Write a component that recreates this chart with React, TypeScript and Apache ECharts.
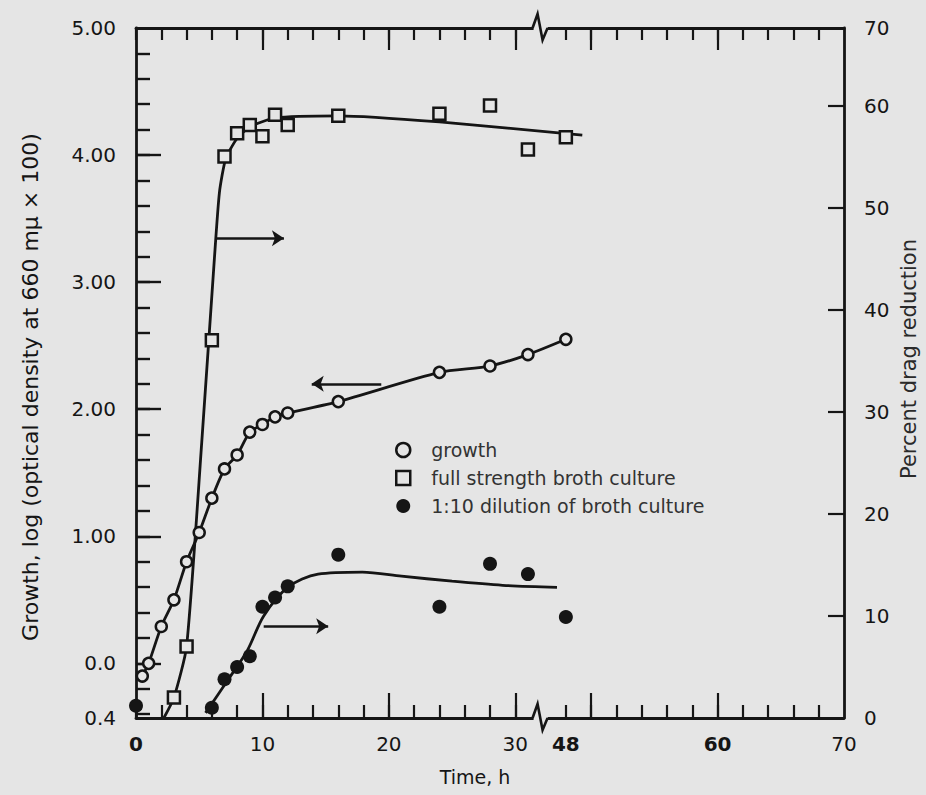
import React, { useEffect, useRef } from "react";
import * as echarts from "echarts";

const BG = "#e5e5e5";
const INK = "#151515";
const FONT = '"DejaVu Sans", "Liberation Sans", sans-serif';

// ---- broken time axis: 0..32 h, then 48..70 h ----
const BREAK_AFTER_H = 32;
const BREAK_SKIP_H = 14;
const toDisplay = (t: number) => (t <= BREAK_AFTER_H ? t : t - BREAK_SKIP_H);

const X_MIN_H = 0;
const X_MAX_H = 70;
const xLabelHours = [0, 10, 20, 30, 48, 60, 70];
const xLabelTexts = ["0", "10", "20", "30", "48", "60", "70"];
const xBoldLabels = ["0", "48", "60"];
const xMinorTickHours = [0, 2, 4, 6, 8, 10, 12, 14, 16, 18, 20, 22, 24, 26, 28, 30, 48, 50, 52, 54, 56, 58, 60, 62, 64, 66, 68];
const xMajorTickHours = [10, 20, 30, 50, 60];

// ---- left axis: growth ----
const LEFT_MIN = -0.43;
const LEFT_MAX = 5.0;
const leftLabelValues = [-0.43, 0, 1, 2, 3, 4, 5];
const leftLabelTexts = ["0.4", "0.0", "1.00", "2.00", "3.00", "4.00", "5.00"];
const leftMinorTicks = [-0.4, -0.2, 0, 0.2, 0.4, 0.6, 0.8, 1, 1.2, 1.4, 1.6, 1.8, 2, 2.2, 2.4, 2.6, 2.8, 3, 3.2, 3.4, 3.6, 3.8, 4, 4.2, 4.4, 4.6, 4.8];
const leftMajorTicks = [0, 1, 2, 3, 4];

// ---- right axis: percent drag reduction ----
const RIGHT_MIN = 0;
const RIGHT_MAX = 67.6;
const rightLabelValues = [0, 10, 20, 30, 40, 50, 60, 67.6];
const rightLabelTexts = ["0", "10", "20", "30", "40", "50", "60", "70"];
const rightTicks = [10, 20, 30, 40, 50, 60];

// ---- data ----
const growthHours = [0.5, 1, 2, 3, 4, 5, 6, 7, 8, 9, 10, 11, 12, 16, 24, 28, 31, 48];
const growthValues = [-0.1, 0.0, 0.29, 0.5, 0.8, 1.03, 1.3, 1.53, 1.64, 1.82, 1.88, 1.94, 1.97, 2.06, 2.29, 2.34, 2.43, 2.55];

const fullHours = [3, 4, 6, 7, 8, 9, 10, 11, 12, 16, 24, 28, 31, 48];
const fullValues = [2.0, 7.0, 37.0, 55.0, 57.3, 58.1, 57.0, 59.1, 58.1, 59.0, 59.2, 60.0, 55.7, 56.9];

const dilutionHours = [0, 6, 7, 8, 9, 10, 11, 12, 16, 24, 28, 31, 48];
const dilutionValues = [1.2, 1.0, 3.8, 5.0, 6.05, 10.9, 11.8, 12.9, 16.0, 10.9, 15.1, 14.1, 9.9];

// fitted curves drawn in the figure
const fullFitHours = [2.2, 3, 4, 5.2, 6.2, 6.6, 7.1, 8, 9, 11, 16, 24, 49.3];
const fullFitValues = [0, 2, 7, 27, 45, 51.5, 54.8, 56.8, 57.9, 58.8, 59.0, 58.4, 57.1];

const dilutionFitHours = [5.5, 7.2, 8.8, 10.1, 12, 14.4, 17.9, 21, 25, 29, 47.3];
const dilutionFitValues = [0.5, 3.6, 6.6, 10.0, 12.8, 14.1, 14.3, 13.9, 13.4, 13.0, 12.8];

// arrows pointing to the axis each curve belongs to
const growthArrow = { fromH: 19.4, toH: 13.9, level: 2.2 };
const fullArrow = { fromH: 6.3, toH: 11.7, level: 47 };
const dilutionArrow = { fromH: 10.1, toH: 15.2, level: 9.0 };

const pairs = (xs: number[], ys: number[]) => xs.map((x, i) => [toDisplay(x), ys[i]]);

const lookup = (vals: number[], texts: string[]) => (v: number) => {
  const i = vals.findIndex((x) => Math.abs(x - v) < 1e-6);
  return i >= 0 ? texts[i] : "";
};

const arrowMark = (a: { fromH: number; toH: number; level: number }) => ({
  silent: true,
  animation: false,
  symbol: ["none", "arrow"],
  symbolSize: 12,
  label: { show: false },
  emphasis: { disabled: true },
  lineStyle: { color: INK, width: 2.6, type: "solid" },
  data: [[{ coord: [toDisplay(a.fromH), a.level] }, { coord: [toDisplay(a.toH), a.level] }]],
});

const tickLabelStyle = { fontFamily: FONT, fontSize: 20, color: INK };

export default function App() {
  const ref = useRef<HTMLDivElement>(null);

  useEffect(() => {
    if (!ref.current) return;
    const chart = echarts.init(ref.current, undefined, { renderer: "svg" });
    const xMin = toDisplay(X_MIN_H);
    const xMax = toDisplay(X_MAX_H);
    const xLabelFmt = lookup(xLabelHours.map(toDisplay), xLabelTexts);
    const baseX = {
      type: "value",
      min: xMin,
      max: xMax,
      splitLine: { show: false },
    };
    const baseLeft = { type: "value", min: LEFT_MIN, max: LEFT_MAX, splitLine: { show: false } };

    const option: any = {
      animation: false,
      backgroundColor: BG,
      grid: { left: 136, right: 82, top: 28, bottom: 77, containLabel: false },
      legend: {
        orient: "vertical",
        left: 390,
        top: 435,
        itemWidth: 14,
        itemHeight: 14,
        itemGap: 8,
        selectedMode: false,
        textStyle: { fontFamily: FONT, fontSize: 19, color: "#333", lineHeight: 20, padding: [0, 0, 0, 16] },
        data: [
          { name: "growth", icon: "circle", itemStyle: { color: BG, borderColor: INK, borderWidth: 2.5, opacity: 1 } },
          { name: "full strength broth culture", icon: "rect", itemStyle: { color: BG, borderColor: INK, borderWidth: 2.5, opacity: 1 } },
          { name: "1:10 dilution of broth culture", icon: "circle", itemStyle: { color: INK, borderWidth: 0, opacity: 1 } },
        ],
      },
      xAxis: [
        {
          ...baseX,
          position: "bottom",
          axisLine: { show: true, onZero: false, lineStyle: { color: INK, width: 2.8 } },
          axisTick: { show: true, inside: true, length: 13, customValues: xMinorTickHours.map(toDisplay), lineStyle: { color: INK, width: 2.2 } },
          axisLabel: {
            show: true,
            margin: 16,
            customValues: xLabelHours.map(toDisplay),
            formatter: (v: number) => {
              const s = xLabelFmt(v);
              return xBoldLabels.includes(s) ? `{b|${s}}` : s;
            },
            ...tickLabelStyle,
            rich: { b: { ...tickLabelStyle, fontWeight: "bold" } },
          },
        },
        {
          ...baseX,
          position: "bottom",
          axisLine: { show: false, onZero: false },
          axisTick: { show: true, inside: true, length: 25, customValues: xMajorTickHours.map(toDisplay), lineStyle: { color: INK, width: 2.2 } },
          axisLabel: { show: false },
        },
        {
          ...baseX,
          position: "top",
          axisLine: { show: true, onZero: false, lineStyle: { color: INK, width: 2.8 } },
          axisTick: { show: true, inside: true, length: 12, customValues: xMinorTickHours.map(toDisplay), lineStyle: { color: INK, width: 2.2 } },
          axisLabel: { show: false },
        },
        {
          ...baseX,
          position: "top",
          axisLine: { show: false, onZero: false },
          axisTick: { show: true, inside: true, length: 22, customValues: xMajorTickHours.map(toDisplay), lineStyle: { color: INK, width: 2.2 } },
          axisLabel: { show: false },
        },
      ],
      yAxis: [
        {
          ...baseLeft,
          position: "left",
          axisLine: { show: true, onZero: false, lineStyle: { color: INK, width: 2.8 } },
          axisTick: { show: true, inside: true, length: 14, customValues: leftMinorTicks, lineStyle: { color: INK, width: 2.4 } },
          axisLabel: {
            show: true,
            margin: 20,
            customValues: leftLabelValues,
            formatter: lookup(leftLabelValues, leftLabelTexts),
            ...tickLabelStyle,
          },
        },
        {
          type: "value",
          min: RIGHT_MIN,
          max: RIGHT_MAX,
          position: "right",
          splitLine: { show: false },
          axisLine: { show: true, onZero: false, lineStyle: { color: INK, width: 2.8 } },
          axisTick: { show: true, inside: true, length: 16, customValues: rightTicks, lineStyle: { color: INK, width: 2.2 } },
          axisLabel: {
            show: true,
            margin: 20,
            customValues: rightLabelValues,
            formatter: lookup(rightLabelValues, rightLabelTexts),
            ...tickLabelStyle,
          },
        },
        {
          ...baseLeft,
          position: "left",
          axisLine: { show: false, onZero: false },
          axisTick: { show: true, inside: true, length: 25, customValues: leftMajorTicks, lineStyle: { color: INK, width: 2.4 } },
          axisLabel: { show: false },
        },
      ],
      graphic: [
        {
          type: "text",
          x: 30,
          y: 387,
          rotation: Math.PI / 2,
          style: {
            text: "Growth, log (optical density at 660 mμ × 100)",
            fill: INK,
            fontFamily: FONT,
            fontSize: 22,
            textAlign: "center",
            textVerticalAlign: "middle",
            align: "center",
            verticalAlign: "middle",
          },
        },
        {
          type: "text",
          x: 909,
          y: 359,
          rotation: Math.PI / 2,
          style: {
            text: "Percent drag reduction",
            fill: "#2a2a2a",
            fontFamily: FONT,
            fontSize: 21,
            textAlign: "center",
            textVerticalAlign: "middle",
            align: "center",
            verticalAlign: "middle",
          },
        },
        {
          type: "text",
          x: 475,
          y: 777,
          style: {
            text: "Time, h",
            fill: INK,
            fontFamily: FONT,
            fontSize: 19,
            textAlign: "center",
            textVerticalAlign: "middle",
            align: "center",
            verticalAlign: "middle",
          },
        },
      ],
      series: [
        {
          name: "full strength fit",
          type: "line",
          xAxisIndex: 0,
          yAxisIndex: 1,
          data: pairs(fullFitHours, fullFitValues),
          smooth: 0.2,
          showSymbol: false,
          symbol: "none",
          lineStyle: { color: INK, width: 2.8 },
          silent: true,
          z: 2,
          markLine: arrowMark(fullArrow),
        },
        {
          name: "dilution fit",
          type: "line",
          xAxisIndex: 0,
          yAxisIndex: 1,
          data: pairs(dilutionFitHours, dilutionFitValues),
          smooth: 0.3,
          showSymbol: false,
          symbol: "none",
          lineStyle: { color: INK, width: 2.8 },
          silent: true,
          z: 2,
          markLine: arrowMark(dilutionArrow),
        },
        {
          name: "growth",
          type: "line",
          xAxisIndex: 0,
          yAxisIndex: 0,
          data: pairs(growthHours, growthValues),
          smooth: 0.25,
          symbol: "circle",
          symbolSize: 11,
          showSymbol: true,
          lineStyle: { color: INK, width: 2.8 },
          itemStyle: { color: BG, borderColor: INK, borderWidth: 2.5, opacity: 1 },
          z: 3,
          markLine: arrowMark(growthArrow),
        },
        {
          name: "full strength broth culture",
          type: "scatter",
          xAxisIndex: 0,
          yAxisIndex: 1,
          data: pairs(fullHours, fullValues),
          symbol: "rect",
          symbolSize: 12,
          itemStyle: { color: BG, borderColor: INK, borderWidth: 2.5, opacity: 1 },
          z: 4,
        },
        {
          name: "1:10 dilution of broth culture",
          type: "scatter",
          xAxisIndex: 0,
          yAxisIndex: 1,
          data: pairs(dilutionHours, dilutionValues),
          symbol: "circle",
          symbolSize: 14,
          itemStyle: { color: INK, opacity: 1 },
          z: 4,
        },
        {
          name: "axis break",
          type: "custom",
          xAxisIndex: 0,
          yAxisIndex: 0,
          silent: true,
          clip: false,
          z: 5,
          encode: { x: 0, y: 1 },
          data: [[toDisplay(BREAK_AFTER_H), LEFT_MIN]],
          renderItem: (_params: any, api: any) => {
            const x = api.value(0);
            const bottom = api.coord([x, LEFT_MIN]);
            const top = api.coord([x, LEFT_MAX]);
            const zig = (p: number[]) => ({
              type: "group",
              children: [
                { type: "rect", shape: { x: p[0] - 7, y: p[1] - 3, width: 14, height: 6 }, style: { fill: BG } },
                {
                  type: "polyline",
                  shape: { points: [[p[0] - 8, p[1]], [p[0] - 3, p[1] - 14], [p[0] + 2, p[1] + 12], [p[0] + 7, p[1]]] },
                  style: { stroke: INK, lineWidth: 2.6, fill: "none" },
                },
              ],
            });
            return { type: "group", children: [zig(bottom), zig(top)] };
          },
        },
      ],
    };
    chart.setOption(option);
    return () => chart.dispose();
  }, []);

  return <div ref={ref} style={{ position: "absolute", left: 0, top: 0, width: 926, height: 795 }} />;
}
